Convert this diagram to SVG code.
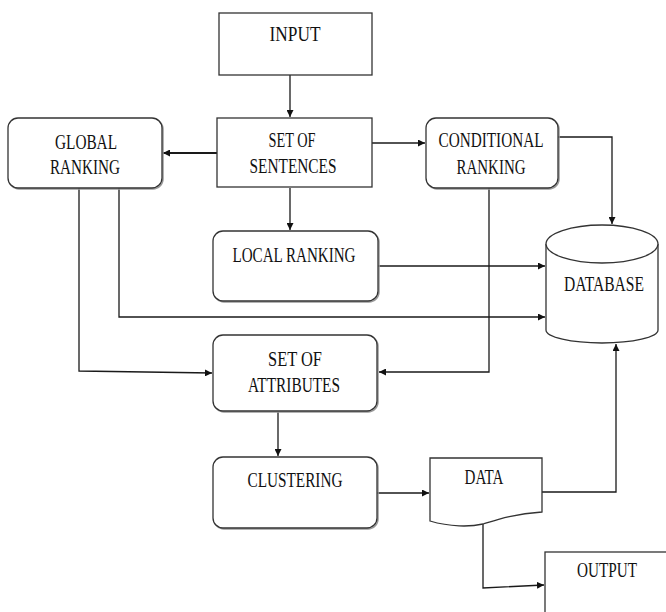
<svg xmlns="http://www.w3.org/2000/svg" width="666" height="612" viewBox="0 0 666 612">
<defs>
<style>
.box{fill:#fff;stroke:#333;stroke-width:1.3}
.shd{fill:none;stroke:#999;stroke-width:1.5}
.t{font-family:"Liberation Serif","Times New Roman",serif;font-size:22px;fill:#111;text-anchor:middle}
.c{fill:none;stroke:#1a1a1a;stroke-width:1.3}
</style>
<marker id="ah" viewBox="0 0 10 10" refX="10" refY="5" markerWidth="7" markerHeight="7" markerUnits="userSpaceOnUse" orient="auto">
<path d="M0,0 L10,5 L0,10 z" fill="#111"/>
</marker>
</defs>
<rect width="666" height="612" fill="#fff"/>

<g id="connectors">
<path class="c" d="M290,75 V117" marker-end="url(#ah)"/>
<path class="c" d="M217,153 H163" style="stroke-width:2.2" marker-end="url(#ah)"/>
<path class="c" d="M372,143 H425" marker-end="url(#ah)"/>
<path class="c" d="M290,188 V230" marker-end="url(#ah)"/>
<path class="c" d="M558,137 H612 V224" marker-end="url(#ah)"/>
<path class="c" d="M489,188 V372 H379" marker-end="url(#ah)"/>
<path class="c" d="M79,188 V371 L212,373" marker-end="url(#ah)"/>
<path class="c" d="M119,188 V317 H545" marker-end="url(#ah)"/>
<path class="c" d="M378,266 H545" marker-end="url(#ah)"/>
<path class="c" d="M278,412 V456" marker-end="url(#ah)"/>
<path class="c" d="M377,493 H429" marker-end="url(#ah)"/>
<path class="c" d="M542,492 H616 V344" marker-end="url(#ah)"/>
<path class="c" d="M483,524 V588 L544,585" marker-end="url(#ah)"/>
</g>

<g id="input">
<rect class="box" x="219" y="13" width="153" height="62"/>
<text class="t" x="295" y="41" textLength="51" lengthAdjust="spacingAndGlyphs">INPUT</text>
</g>

<g id="set-of-sentences">
<rect class="box" x="217" y="118" width="155" height="69"/>
<text class="t" x="292" y="147" textLength="47" lengthAdjust="spacingAndGlyphs">SET OF</text>
<text class="t" x="293" y="173" textLength="87" lengthAdjust="spacingAndGlyphs">SENTENCES</text>
</g>

<g id="global-ranking">
<rect class="shd" x="9" y="119" width="154" height="70" rx="10"/>
<rect class="box" x="8" y="118" width="154" height="70" rx="10"/>
<text class="t" x="86" y="149" textLength="62" lengthAdjust="spacingAndGlyphs">GLOBAL</text>
<text class="t" x="85" y="174" textLength="70" lengthAdjust="spacingAndGlyphs">RANKING</text>
</g>

<g id="conditional-ranking">
<rect class="shd" x="427" y="119" width="132" height="70" rx="10"/>
<rect class="box" x="426" y="118" width="132" height="70" rx="10"/>
<text class="t" x="491" y="147" textLength="105" lengthAdjust="spacingAndGlyphs">CONDITIONAL</text>
<text class="t" x="491" y="174" textLength="69" lengthAdjust="spacingAndGlyphs">RANKING</text>
</g>

<g id="local-ranking">
<rect class="shd" x="214" y="232" width="165" height="70" rx="10"/>
<rect class="box" x="213" y="231" width="165" height="70" rx="10"/>
<text class="t" x="294" y="262" textLength="123" lengthAdjust="spacingAndGlyphs">LOCAL RANKING</text>
</g>

<g id="database">
<path class="box" d="M546,244 V330 A56,13 0 0 0 658,330 V244"/>
<ellipse class="box" cx="602" cy="244" rx="56" ry="19"/>
<text class="t" x="604" y="291" style="font-size:20px" textLength="80" lengthAdjust="spacingAndGlyphs">DATABASE</text>
</g>

<g id="set-of-attributes">
<rect class="shd" x="214" y="336" width="164" height="76" rx="10"/>
<rect class="box" x="213" y="335" width="164" height="76" rx="10"/>
<text class="t" x="295" y="366" textLength="54" lengthAdjust="spacingAndGlyphs">SET OF</text>
<text class="t" x="294" y="392" textLength="92" lengthAdjust="spacingAndGlyphs">ATTRIBUTES</text>
</g>

<g id="clustering">
<rect class="shd" x="214" y="458" width="164" height="71" rx="10"/>
<rect class="box" x="213" y="457" width="164" height="71" rx="10"/>
<text class="t" x="295" y="487" textLength="95" lengthAdjust="spacingAndGlyphs">CLUSTERING</text>
</g>

<g id="data">
<path class="box" d="M430,458 H542 V512 C512,514 496,520 483,524 C470,527 450,527 430,521 Z"/>
<text class="t" x="484" y="484" textLength="39" lengthAdjust="spacingAndGlyphs">DATA</text>
</g>

<g id="output">
<rect class="box" x="545" y="552" width="140" height="80"/>
<text class="t" x="607" y="577" textLength="60" lengthAdjust="spacingAndGlyphs">OUTPUT</text>
</g>
</svg>
